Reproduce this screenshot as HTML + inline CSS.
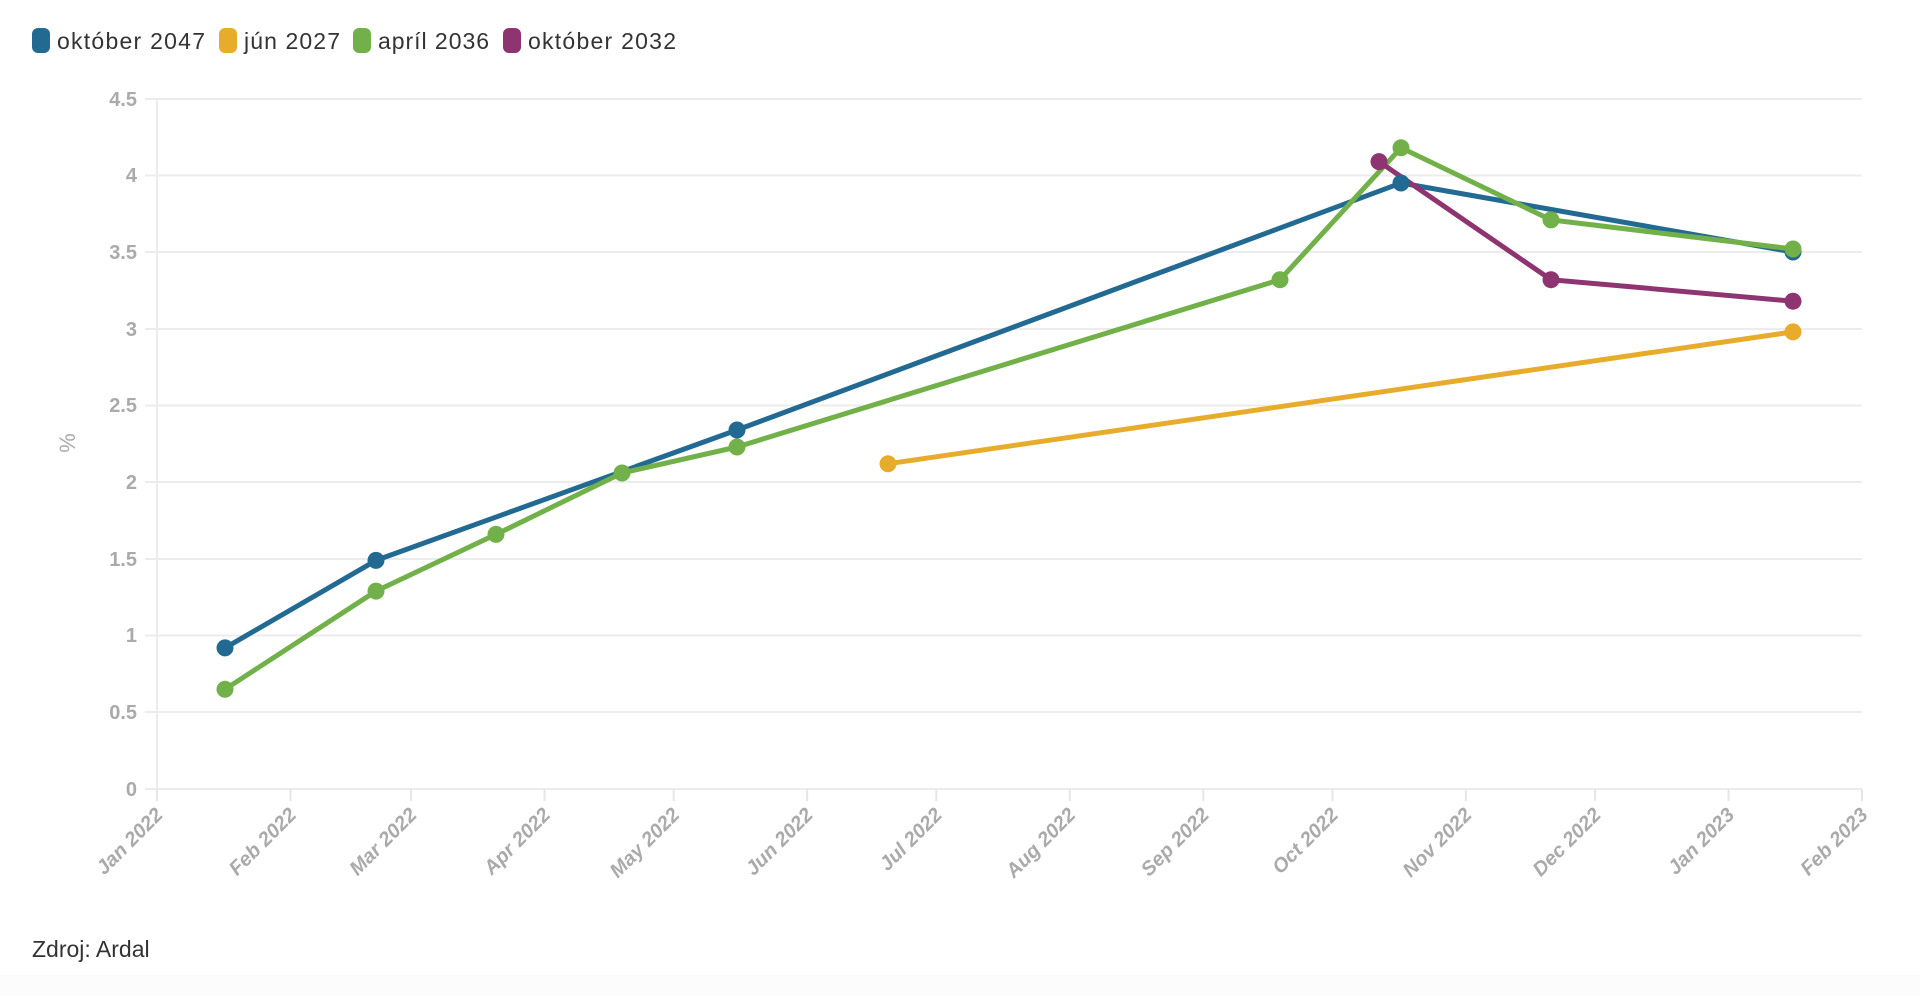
<!DOCTYPE html>
<html><head><meta charset="utf-8"><style>
body{margin:0;background:#fff;width:1920px;height:995px;overflow:hidden;font-family:"Liberation Sans",sans-serif}
</style></head><body>
<svg width="1920" height="995" xmlns="http://www.w3.org/2000/svg" font-family="Liberation Sans, sans-serif">
<rect x="0" y="975" width="1920" height="20" fill="#fcfcfc"/>
<g font-size="23" fill="#333">
<rect x="32" y="28" width="18" height="25" rx="6" fill="#236a93"/><text x="57" y="49" textLength="148">október 2047</text>
<rect x="219" y="28" width="18" height="25" rx="6" fill="#e8ac2c"/><text x="244" y="49" textLength="96">jún 2027</text>
<rect x="353" y="28" width="18" height="25" rx="6" fill="#72b04a"/><text x="378" y="49" textLength="111">apríl 2036</text>
<rect x="503" y="28" width="18" height="25" rx="6" fill="#8e3470"/><text x="528" y="49" textLength="148">október 2032</text>
</g>
<g stroke="#ececec" stroke-width="2">
<line x1="145" y1="99" x2="1862" y2="99"/><line x1="145" y1="175.5" x2="1862" y2="175.5"/><line x1="145" y1="252" x2="1862" y2="252"/><line x1="145" y1="329" x2="1862" y2="329"/><line x1="145" y1="405.5" x2="1862" y2="405.5"/><line x1="145" y1="482" x2="1862" y2="482"/><line x1="145" y1="559" x2="1862" y2="559"/><line x1="145" y1="635.5" x2="1862" y2="635.5"/><line x1="145" y1="712" x2="1862" y2="712"/><line x1="145" y1="789" x2="1862" y2="789"/>
<line x1="157" y1="99" x2="157" y2="801"/>
</g>
<g stroke="#e6e6e6" stroke-width="2">
<line x1="157" y1="789" x2="157" y2="801"/><line x1="290.5" y1="789" x2="290.5" y2="801"/><line x1="411" y1="789" x2="411" y2="801"/><line x1="544.5" y1="789" x2="544.5" y2="801"/><line x1="673.7" y1="789" x2="673.7" y2="801"/><line x1="807.1" y1="789" x2="807.1" y2="801"/><line x1="936.3" y1="789" x2="936.3" y2="801"/><line x1="1069.8" y1="789" x2="1069.8" y2="801"/><line x1="1203.3" y1="789" x2="1203.3" y2="801"/><line x1="1332.4" y1="789" x2="1332.4" y2="801"/><line x1="1465.9" y1="789" x2="1465.9" y2="801"/><line x1="1595.1" y1="789" x2="1595.1" y2="801"/><line x1="1728.5" y1="789" x2="1728.5" y2="801"/><line x1="1862" y1="789" x2="1862" y2="801"/>
</g>
<g font-size="20" font-weight="bold" fill="#aaa" text-anchor="end">
<text x="137" y="106">4.5</text><text x="137" y="182">4</text><text x="137" y="259">3.5</text><text x="137" y="336">3</text><text x="137" y="412">2.5</text><text x="137" y="489">2</text><text x="137" y="566">1.5</text><text x="137" y="642">1</text><text x="137" y="719">0.5</text><text x="137" y="796">0</text>
</g>
<text x="0" y="0" font-size="22" fill="#aaa" transform="translate(75,443) rotate(-90)" text-anchor="middle">%</text>
<g font-size="20" font-weight="bold" font-style="italic" fill="#aaa" text-anchor="end">
<text transform="translate(164,816) rotate(-45)">Jan 2022</text>
<text transform="translate(297.5,816) rotate(-45)">Feb 2022</text>
<text transform="translate(418,816) rotate(-45)">Mar 2022</text>
<text transform="translate(551.5,816) rotate(-45)">Apr 2022</text>
<text transform="translate(680.7,816) rotate(-45)">May 2022</text>
<text transform="translate(814.1,816) rotate(-45)">Jun 2022</text>
<text transform="translate(943.3,816) rotate(-45)">Jul 2022</text>
<text transform="translate(1076.8,816) rotate(-45)">Aug 2022</text>
<text transform="translate(1210.3,816) rotate(-45)">Sep 2022</text>
<text transform="translate(1339.4,816) rotate(-45)">Oct 2022</text>
<text transform="translate(1472.9,816) rotate(-45)">Nov 2022</text>
<text transform="translate(1602.1,816) rotate(-45)">Dec 2022</text>
<text transform="translate(1735.5,816) rotate(-45)">Jan 2023</text>
<text transform="translate(1869,816) rotate(-45)">Feb 2023</text>
</g>
<g fill="none" stroke-width="5" stroke-linejoin="round">
<polyline stroke="#e8ac2c" points="888,463.8 1793,331.9"/>
<polyline stroke="#236a93" points="225,647.9 376,560.4 737,430 1401,183 1793,252"/>
<polyline stroke="#72b04a" points="225,689.3 376,591.1 496,534.4 622,473 737,447 1280,279.7 1401,147.8 1551,219.9 1793,249"/>
<polyline stroke="#8e3470" points="1379,161.6 1551,279.7 1793,301.2"/>
</g>
<g fill="#e8ac2c"><circle cx="888" cy="463.8" r="8.5"/><circle cx="1793" cy="331.9" r="8.5"/></g>
<g fill="#236a93"><circle cx="225" cy="647.9" r="8.5"/><circle cx="376" cy="560.4" r="8.5"/><circle cx="737" cy="430" r="8.5"/><circle cx="1401" cy="183" r="8.5"/><circle cx="1793" cy="252" r="8.5"/></g>
<g fill="#72b04a"><circle cx="225" cy="689.3" r="8.5"/><circle cx="376" cy="591.1" r="8.5"/><circle cx="496" cy="534.4" r="8.5"/><circle cx="622" cy="473" r="8.5"/><circle cx="737" cy="447" r="8.5"/><circle cx="1280" cy="279.7" r="8.5"/><circle cx="1401" cy="147.8" r="8.5"/><circle cx="1551" cy="219.9" r="8.5"/><circle cx="1793" cy="249" r="8.5"/></g>
<g fill="#8e3470"><circle cx="1379" cy="161.6" r="8.5"/><circle cx="1551" cy="279.7" r="8.5"/><circle cx="1793" cy="301.2" r="8.5"/></g>
<text x="32" y="957" font-size="23" fill="#333">Zdroj: Ardal</text>
</svg>
</body></html>
